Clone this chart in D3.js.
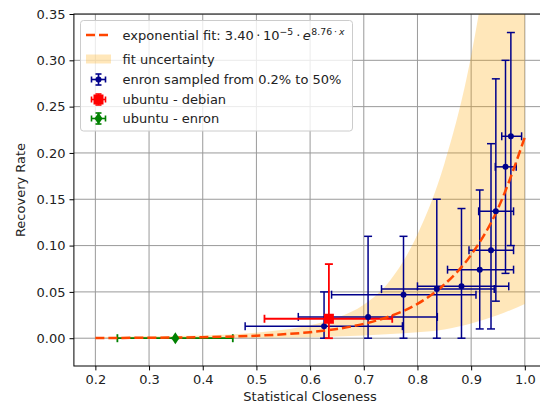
<!DOCTYPE html>
<html>
<head>
<meta charset="utf-8">
<script src="https://cdn.jsdelivr.net/npm/d3@7"></script>
<style>
  body { margin: 0; background: #fff; }
  svg { font-family: "DejaVu Sans", sans-serif; }
</style>
</head>
<body>
<div id="chart"></div>
<script>
// enron sampled points (value, lower, upper for each axis)
var enronX   = [0.626, 0.708, 0.774, 0.836, 0.882, 0.916, 0.937, 0.946, 0.964, 0.974];
var enronY   = [0.013, 0.023, 0.047, 0.053, 0.056, 0.074, 0.095, 0.137, 0.185, 0.218];
var enronXLo = [0.479, 0.578, 0.640, 0.733, 0.800, 0.856, 0.896, 0.914, 0.945, 0.957];
var enronXHi = [0.772, 0.837, 0.909, 0.943, 0.970, 0.979, 0.979, 0.979, 0.984, 0.994];
var enronYLo = [0.000, 0.000, 0.000, 0.000, 0.000, 0.010, 0.010, 0.040, 0.070, 0.100];
var enronYHi = [0.050, 0.110, 0.110, 0.150, 0.140, 0.160, 0.210, 0.280, 0.300, 0.330];

// ubuntu - debian
var debX = [0.635], debY = [0.021], debXLo = [0.515], debXHi = [0.753], debYLo = [0.0], debYHi = [0.080];
// ubuntu - enron
var ueX = [0.349], ueY = [0.0], ueXLo = [0.241], ueXHi = [0.456], ueYLo = [0.0], ueYHi = [0.0];

// fitted curve + uncertainty band
var fitX     = [0.2, 0.3, 0.4, 0.5, 0.55, 0.6, 0.65, 0.7, 0.75, 0.8, 0.85, 0.9, 0.95, 1.0];
var fitY     = [0.0002, 0.0005, 0.0011, 0.0027, 0.0042, 0.0065, 0.010, 0.0155, 0.024, 0.037, 0.058, 0.090, 0.140, 0.217];
var bandLo   = [0.0000, 0.0001, 0.0002, 0.0004, 0.0007, 0.001, 0.0018, 0.003, 0.0045, 0.0065, 0.0095, 0.016, 0.025, 0.037];
var bandHi   = [0.001, 0.002, 0.003, 0.006, 0.009, 0.014, 0.022, 0.036, 0.063, 0.112, 0.188, 0.305, 0.490, 0.760];

var xTicks = [0.2, 0.3, 0.4, 0.5, 0.6, 0.7, 0.8, 0.9, 1.0];
var yTicks = [0.00, 0.05, 0.10, 0.15, 0.20, 0.25, 0.30, 0.35];

var W = 540, H = 406;
var padL = 73.9, padT = 14, padB = 366, padR = 546.3;
var blue = '#00008b', fitColor = '#ff4500';
var fs = '13px', supFs = '9.3px';

var x = d3.scaleLinear().domain([0.16, 1.04]).range([padL, padR]);
var y = d3.scaleLinear().domain([-0.03, 0.35]).range([padB, padT]);

var svg = d3.select('#chart').append('svg').attr('width', W).attr('height', H);

svg.append('clipPath').attr('id', 'plotClip')
  .append('rect').attr('x', padL).attr('y', padT).attr('width', padR - padL).attr('height', padB - padT);

// grid
var grid = svg.append('g').attr('clip-path', 'url(#plotClip)');
grid.selectAll('.gx').data(xTicks).enter().append('line')
  .attr('x1', function(d){ return x(d); }).attr('x2', function(d){ return x(d); })
  .attr('y1', padT).attr('y2', padB)
  .attr('stroke', '#9a9a9a').attr('stroke-width', 1);
grid.selectAll('.gy').data(yTicks).enter().append('line')
  .attr('y1', function(d){ return y(d); }).attr('y2', function(d){ return y(d); })
  .attr('x1', padL).attr('x2', padR)
  .attr('stroke', '#9a9a9a').attr('stroke-width', 1);

var plot = svg.append('g').attr('clip-path', 'url(#plotClip)');

// uncertainty band
var area = d3.area()
  .x(function(d, i){ return x(fitX[i]); })
  .y0(function(d, i){ return y(bandLo[i]); })
  .y1(function(d, i){ return y(bandHi[i]); })
  .curve(d3.curveMonotoneX);
plot.append('path').datum(fitX).attr('d', area)
  .attr('fill', 'orange').attr('fill-opacity', 0.27);

// error bars
function errBars(g, xs, ys, xlo, xhi, ylo, yhi, color, lw, cap){
  for (var i = 0; i < xs.length; i++) {
    var cx = x(xs[i]), cy = y(ys[i]);
    var segs = [
      [x(xlo[i]), cy, x(xhi[i]), cy],
      [cx, y(ylo[i]), cx, y(yhi[i])],
      [x(xlo[i]), cy - cap, x(xlo[i]), cy + cap],
      [x(xhi[i]), cy - cap, x(xhi[i]), cy + cap],
      [cx - cap, y(ylo[i]), cx + cap, y(ylo[i])],
      [cx - cap, y(yhi[i]), cx + cap, y(yhi[i])]
    ];
    g.selectAll(null).data(segs).enter().append('line')
      .attr('x1', function(s){ return s[0]; }).attr('y1', function(s){ return s[1]; })
      .attr('x2', function(s){ return s[2]; }).attr('y2', function(s){ return s[3]; })
      .attr('stroke', color).attr('stroke-width', lw);
  }
}
errBars(plot, enronX, enronY, enronXLo, enronXHi, enronYLo, enronYHi, blue, 1.5, 4);
errBars(plot, debX, debY, debXLo, debXHi, debYLo, debYHi, 'red', 1.8, 4);
errBars(plot, ueX, ueY, ueXLo, ueXHi, ueYLo, ueYHi, 'green', 1.8, 4);

// fit line
var line = d3.line()
  .x(function(d, i){ return x(fitX[i]); })
  .y(function(d, i){ return y(fitY[i]); })
  .curve(d3.curveMonotoneX);
plot.append('path').datum(fitX).attr('d', line)
  .attr('fill', 'none').attr('stroke', fitColor).attr('stroke-width', 2.5)
  .attr('stroke-dasharray', '9,4');

// markers
plot.selectAll('.pt').data(enronX).enter().append('circle')
  .attr('cx', function(d){ return x(d); })
  .attr('cy', function(d, i){ return y(enronY[i]); })
  .attr('r', 3).attr('fill', blue);
plot.selectAll('.sq').data(debX).enter().append('rect')
  .attr('x', function(d){ return x(d) - 5; })
  .attr('y', function(d, i){ return y(debY[i]) - 5; })
  .attr('width', 10).attr('height', 10).attr('fill', 'red');
plot.selectAll('.dm').data(ueX).enter().append('path')
  .attr('d', function(d, i){
    var cx = x(d), cy = y(ueY[i]);
    return 'M' + cx + ',' + (cy - 6) + 'L' + (cx + 4) + ',' + cy + 'L' + cx + ',' + (cy + 6) + 'L' + (cx - 4) + ',' + cy + 'Z';
  })
  .attr('fill', 'green');

// frame
svg.append('rect').attr('x', padL).attr('y', padT).attr('width', padR - padL).attr('height', padB - padT)
  .attr('fill', 'none').attr('stroke', '#000').attr('stroke-width', 1);

// axes
var xAxis = d3.axisBottom(x).tickValues(xTicks).tickSize(4.4).tickPadding(4).tickFormat(d3.format('.1f'));
var gx = svg.append('g').attr('transform', 'translate(0,' + padB + ')').call(xAxis);
var yAxis = d3.axisLeft(y).tickValues(yTicks).tickSize(4.4).tickPadding(4).tickFormat(d3.format('.2f'));
var gy = svg.append('g').attr('transform', 'translate(' + padL + ',0)').call(yAxis);
[gx, gy].forEach(function(g){
  g.select('.domain').remove();
  g.selectAll('text').attr('font-size', fs).attr('fill', '#222').attr('font-family', 'DejaVu Sans');
  g.selectAll('line').attr('stroke', '#000');
});

svg.append('text').attr('x', x(0.6)).attr('y', 401)
  .attr('text-anchor', 'middle').attr('font-size', fs).attr('fill', '#222')
  .text('Statistical Closeness');
svg.append('text').attr('transform', 'translate(25,' + ((padT + padB) / 2) + ') rotate(-90)')
  .attr('text-anchor', 'middle').attr('font-size', fs).attr('fill', '#222')
  .text('Recovery Rate');

// legend
var lg = svg.append('g');
lg.append('rect').attr('x', 80.5).attr('y', 20.5).attr('width', 272).attr('height', 110.5)
  .attr('rx', 3).attr('fill', '#fff').attr('fill-opacity', 0.8).attr('stroke', '#ccc');

var tx = 122.5;
lg.append('line').attr('x1', 86).attr('x2', 111).attr('y1', 35).attr('y2', 35)
  .attr('stroke', fitColor).attr('stroke-width', 2.5).attr('stroke-dasharray', '9,4');
var t1 = lg.append('text').attr('x', tx).attr('y', 39.5).attr('font-size', fs).attr('fill', '#222');
t1.append('tspan').text('exponential fit: 3.40');
t1.append('tspan').attr('dx', 2.5).text('\u00b7');
t1.append('tspan').attr('dx', 2.5).text('10');
t1.append('tspan').attr('font-size', supFs).attr('dy', -5).text('\u22125');
t1.append('tspan').attr('dy', 5).attr('dx', 3).text('\u00b7');
t1.append('tspan').attr('dx', 2.5).attr('font-style', 'italic').text('e');
t1.append('tspan').attr('font-size', supFs).attr('dy', -5).attr('dx', 0.5).text('8.76');
t1.append('tspan').attr('font-size', supFs).attr('dx', 2).text('\u00b7');
t1.append('tspan').attr('font-size', supFs).attr('dx', 2).attr('font-style', 'italic').text('x');

lg.append('rect').attr('x', 86).attr('y', 54.5).attr('width', 25).attr('height', 9)
  .attr('fill', 'orange').attr('fill-opacity', 0.27);
lg.append('text').attr('x', tx).attr('y', 63.5).attr('font-size', fs).attr('fill', '#222').text('fit uncertainty');

var legendRows = [
  { label: 'enron sampled from 0.2% to 50%', color: blue, cy: 79.5, mark: 'circle' },
  { label: 'ubuntu - debian', color: 'red', cy: 99.5, mark: 'square' },
  { label: 'ubuntu - enron', color: 'green', cy: 118.5, mark: 'diamond' }
];
legendRows.forEach(function(r){
  var cx = 98.5, c = r.color;
  var segs = [[cx - 7, r.cy, cx + 7, r.cy], [cx, r.cy - 5.5, cx, r.cy + 5.5],
              [cx - 7, r.cy - 3, cx - 7, r.cy + 3], [cx + 7, r.cy - 3, cx + 7, r.cy + 3],
              [cx - 3, r.cy - 5.5, cx + 3, r.cy - 5.5], [cx - 3, r.cy + 5.5, cx + 3, r.cy + 5.5]];
  lg.selectAll(null).data(segs).enter().append('line')
    .attr('x1', function(s){ return s[0]; }).attr('y1', function(s){ return s[1]; })
    .attr('x2', function(s){ return s[2]; }).attr('y2', function(s){ return s[3]; })
    .attr('stroke', c).attr('stroke-width', 1.6);
  if (r.mark == 'circle') lg.append('circle').attr('cx', cx).attr('cy', r.cy).attr('r', 3).attr('fill', c);
  else if (r.mark == 'square') lg.append('rect').attr('x', cx - 5).attr('y', r.cy - 5).attr('width', 10).attr('height', 10).attr('fill', c);
  else lg.append('path').attr('d', 'M' + cx + ',' + (r.cy - 6) + 'L' + (cx + 4) + ',' + r.cy + 'L' + cx + ',' + (r.cy + 6) + 'L' + (cx - 4) + ',' + r.cy + 'Z').attr('fill', c);
  lg.append('text').attr('x', tx).attr('y', r.cy + 4.5).attr('font-size', fs).attr('fill', '#222').text(r.label);
});
</script>
</body>
</html>
